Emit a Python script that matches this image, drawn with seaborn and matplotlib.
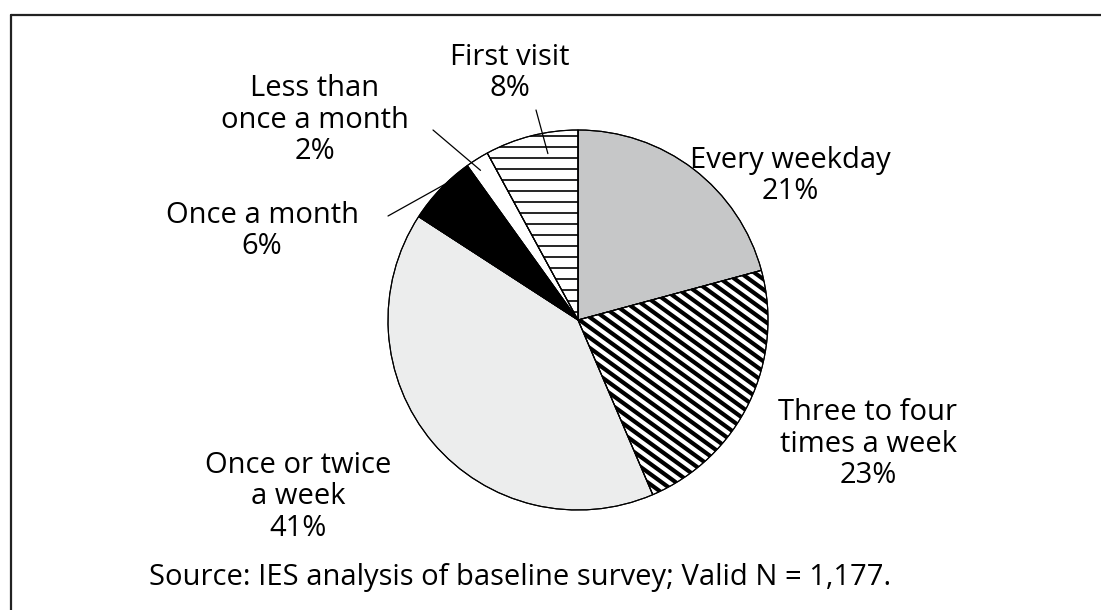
import numpy as np
import matplotlib.pyplot as plt
import seaborn as sns
from matplotlib.lines import Line2D
from matplotlib.patches import Wedge

# Visit frequency shares (clockwise from 12 o'clock)
categories = ["Every weekday", "Three to four\ntimes a week", "Once or twice\na week",
              "Once a month", "Less than\nonce a month", "First visit"]
shares = [21, 23, 41, 6, 2, 8]
source_note = "Source: IES analysis of baseline survey; Valid N = 1,177."

sns.set_theme(style="white")
plt.rcParams["font.family"] = ["Open Sans", "DejaVu Sans"]

W, H = 1101, 610
fig = plt.figure(figsize=(W / 100, H / 100), dpi=100)
ax = fig.add_axes([0, 0, 1, 1])

cx, cy, R = 578, H - 320, 190
fills = ["#c6c7c8", "white", "#eceded", "black", "white", "white"]
wedges, _ = ax.pie(shares, colors=fills, startangle=90, counterclock=False,
                   center=(cx, cy), radius=R, frame=True,
                   wedgeprops=dict(edgecolor="black", linewidth=0.8))
ax.set_xlim(0, W)
ax.set_ylim(0, H)
ax.set_aspect("equal")
ax.axis("off")

# horizontal hatching for "First visit"
for off in np.arange(-R, R, 11):
    ln, = ax.plot([cx - R, cx + R], [cy + off, cy + off], color="black", lw=1.2, zorder=3)
    ln.set_clip_path(wedges[5])

# diagonal stripes for "Three to four times a week"
ang = np.deg2rad(-36)
d = np.array([np.cos(ang), np.sin(ang)])
n = np.array([-d[1], d[0]])
for off in np.arange(-R, R, 8.3):
    p0 = np.array([cx, cy]) + n * off - d * R
    p1 = np.array([cx, cy]) + n * off + d * R
    ln, = ax.plot([p0[0], p1[0]], [p0[1], p1[1]], color="black", lw=3.0,
                  zorder=3, solid_capstyle="butt")
    ln.set_clip_path(wedges[1])

# redraw wedge outlines above the stripes
for w in wedges:
    ax.add_patch(Wedge(w.center, w.r, w.theta1, w.theta2, facecolor="none",
                       edgecolor="black", linewidth=0.8, zorder=4))

# label placements (pixel coords of the text block centre)
label_pos = [(790, 176), (868, 444), (298, 497), (262, 231), (315, 120), (510, 73)]
for (x, y), s, p in zip(label_pos, categories, shares):
    ax.text(x, H - y, f"{s}\n{p}%", ha="center", va="center", fontsize=21,
            linespacing=1.1, color="black")

# leader lines for the small slices
def leader(i, start, r_frac, ang_off=0):
    w = wedges[i]
    a = np.deg2rad((w.theta1 + w.theta2) / 2 + ang_off)
    ex, ey = cx + R * r_frac * np.cos(a), cy + R * r_frac * np.sin(a)
    ax.plot([start[0], ex], [H - start[1], ey], color="black", lw=0.9, zorder=5)

leader(5, (536, 110), 0.89, -4)
leader(4, (433, 130), 0.94, 1)
leader(3, (388, 216), 1.0, -2)

ax.text(520, H - 577, source_note, ha="center", va="center", fontsize=21, color="black")

fig.add_artist(Line2D([11 / W, 1], [1 - 15 / H, 1 - 15 / H], color="#222222", lw=1.6))
fig.add_artist(Line2D([11 / W, 11 / W], [0, 1 - 15 / H], color="#222222", lw=1.6))

plt.savefig("out.png", dpi=100)
